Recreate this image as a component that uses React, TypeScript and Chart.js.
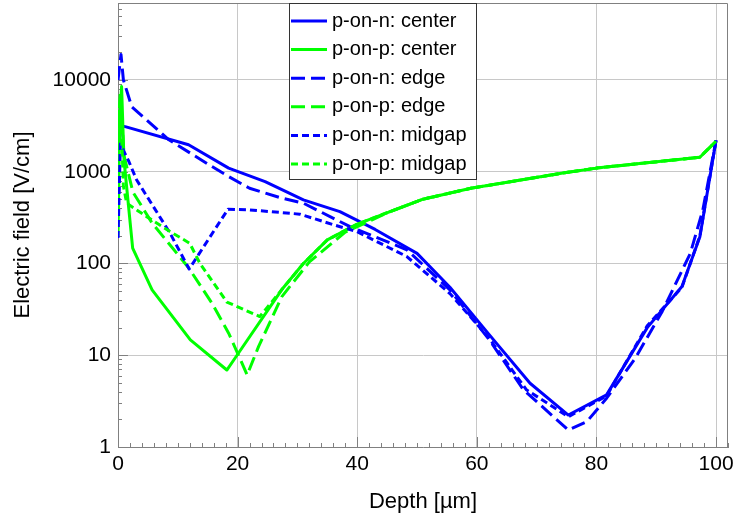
import React, { useEffect, useRef } from 'react';
import { Chart, registerables } from 'chart.js';

Chart.register(...registerables);

const FONT = "'Liberation Sans', Arial, sans-serif";

// Axis ticks
const xTickValues = [0, 20, 40, 60, 80, 100];
const yTickValues = [1, 10, 100, 1000, 10000];

// p-on-n: center
const ponnCenterX = [0, 0.5, 1.2, 11.8, 18.5, 24.6, 31, 37.1, 43, 50, 55.5, 62, 68.9, 75.3, 81.7, 88.5, 94.3, 97.3, 100];
const ponnCenterY = [1500, 3150, 3100, 1965, 1094, 780, 494, 368, 235, 129, 55, 17, 4.95, 2.23, 3.7, 20, 56, 196, 2200];

// p-on-p: center
const ponpCenterX = [0, 0.3, 0.6, 1.0, 2.45, 5.7, 12.1, 18.2, 19.9, 27.4, 31, 35, 40, 45.5, 51, 59, 74.4, 80, 97.3, 100];
const ponpCenterY = [200, 4000, 8500, 1350, 147, 51.5, 14.7, 6.9, 10, 52, 100, 181, 269, 368, 502, 660, 967, 1095, 1440, 2150];

// p-on-n: edge
const ponnEdgeX = [0, 0.5, 0.9, 2.3, 8.5, 15.7, 18.5, 22, 27.4, 31, 38.8, 48.3, 55.5, 62, 67.8, 75.3, 78.4, 81.7, 86.5, 91, 95.7, 97.8, 100];
const ponnEdgeY = [10000, 19000, 10000, 5100, 2230, 1140, 887, 660, 515, 454, 252, 141, 51.5, 15, 4.2, 1.53, 1.89, 3.4, 9.3, 30, 129, 385, 2200];

// p-on-p: edge
const ponpEdgeX = [0, 0.4, 1.0, 2.5, 5.7, 11.8, 15.7, 18.5, 21.6, 23.5, 27.4, 32, 38, 45.5, 51, 59, 74.4, 80, 97.3, 100];
const ponpEdgeY = [3000, 7500, 1500, 600, 276, 90, 37, 17.4, 6.1, 12.4, 43.6, 104, 220, 368, 502, 660, 967, 1095, 1440, 2150];

// p-on-n: midgap
const ponnMidX = [0, 0.4, 1.8, 3.1, 8.7, 11.9, 18.4, 22, 30.4, 36, 39.9, 48.3, 55.5, 62, 68.3, 75.3, 81.7, 88.5, 94.3, 97.3, 100];
const ponnMidY = [190, 2000, 1300, 817, 214, 87, 391, 384, 345, 265, 223, 119, 47, 15.5, 4.2, 2.14, 3.6, 21, 55, 200, 2200];

// p-on-p: midgap
const ponpMidX = [0, 0.4, 0.9, 1.45, 4.8, 8.7, 12, 13.7, 18.2, 23.7, 27.4, 31, 35, 40, 45.5, 51, 59, 74.4, 80, 97.3, 100];
const ponpMidY = [3000, 6000, 700, 454, 324, 223, 166, 100, 38, 26.4, 52, 100, 181, 269, 368, 502, 660, 967, 1095, 1440, 2150];

const seriesLabels = ['p-on-n: center', 'p-on-p: center', 'p-on-n: edge', 'p-on-p: edge', 'p-on-n: midgap', 'p-on-p: midgap'];

const BLUE = '#0000ff';
const GREEN = '#00ff00';
const DASH = [14, 6];
const DOT = [7, 4];

function pts(xs: number[], ys: number[]) {
  return xs.map((x, i) => ({ x, y: ys[i] }));
}

export default function App() {
  const ref = useRef<HTMLCanvasElement>(null);

  useEffect(() => {
    const canvas = ref.current;
    if (!canvas) return;

    const raw = [
      { data: pts(ponnCenterX, ponnCenterY), color: BLUE, dash: [] as number[] },
      { data: pts(ponpCenterX, ponpCenterY), color: GREEN, dash: [] as number[] },
      { data: pts(ponnEdgeX, ponnEdgeY), color: BLUE, dash: DASH },
      { data: pts(ponpEdgeX, ponpEdgeY), color: GREEN, dash: DASH },
      { data: pts(ponnMidX, ponnMidY), color: BLUE, dash: DOT },
      { data: pts(ponpMidX, ponpMidY), color: GREEN, dash: DOT },
    ];
    const datasets = raw.map((r, i) => ({
      label: seriesLabels[i],
      data: r.data,
      borderColor: r.color,
      backgroundColor: r.color,
      borderDash: r.dash,
      borderWidth: 3,
      borderJoinStyle: 'round',
      pointRadius: 0,
      tension: 0,
      fill: false,
      order: 6 - i,
    }));

    const framePlugin = {
      id: 'frameTicks',
      beforeDatasetsDraw(chart: any) {
        const { ctx, chartArea: a, scales } = chart;
        const x = scales.x;
        const y = scales.y;
        ctx.save();
        ctx.strokeStyle = '#808080';
        ctx.lineWidth = 1;
        ctx.setLineDash([]);
        ctx.beginPath();
        ctx.moveTo(a.left, a.top + 0.5);
        ctx.lineTo(a.right - 0.5, a.top + 0.5);
        ctx.lineTo(a.right - 0.5, a.bottom);
        ctx.stroke();
        ctx.beginPath();
        for (let d = 1; d <= 100000; d *= 10) {
          for (let m = 1; m <= 9; m++) {
            const v = d * m;
            if (v < y.min || v > y.max) continue;
            const py = Math.round(y.getPixelForValue(v)) + 0.5;
            const len = m === 1 ? 10 : 4;
            ctx.moveTo(a.left, py);
            ctx.lineTo(a.left + len, py);
          }
        }
        for (let v = 0; v <= x.max; v += 2) {
          const px = Math.round(x.getPixelForValue(v)) + 0.5;
          const len = v % 20 === 0 ? 10 : 4;
          ctx.moveTo(px, a.bottom);
          ctx.lineTo(px, a.bottom - len);
        }
        ctx.stroke();
        ctx.restore();
      },
    };

    const legendPlugin = {
      id: 'boxLegend',
      afterDraw(chart: any) {
        const { ctx } = chart;
        const left = 289;
        const top = 3;
        const w = 187;
        const rowH = 28.6;
        const h = 176;
        ctx.save();
        ctx.fillStyle = '#ffffff';
        ctx.fillRect(left, top, w, h);
        ctx.strokeStyle = '#333333';
        ctx.lineWidth = 1;
        ctx.setLineDash([]);
        ctx.strokeRect(left + 0.5, top + 0.5, w, h);
        chart.data.datasets.forEach((ds: any, i: number) => {
          const cy = top + 18 + i * rowH;
          ctx.strokeStyle = ds.borderColor;
          ctx.lineWidth = 3;
          ctx.setLineDash(ds.borderDash || []);
          ctx.beginPath();
          ctx.moveTo(291, cy);
          ctx.lineTo(327, cy);
          ctx.stroke();
          ctx.setLineDash([]);
          ctx.fillStyle = '#000000';
          ctx.font = `20px ${FONT}`;
          ctx.textBaseline = 'middle';
          ctx.textAlign = 'left';
          ctx.fillText(ds.label, 332, cy);
        });
        ctx.restore();
      },
    };

    const chart = new Chart(canvas, {
      type: 'line',
      data: { datasets: datasets as any },
      options: {
        animation: false,
        responsive: false,
        devicePixelRatio: 1,
        layout: { padding: { top: 3, right: 7, left: 0, bottom: 0 } },
        plugins: {
          legend: { display: false },
          tooltip: { enabled: false },
        },
        scales: {
          x: {
            type: 'linear',
            min: 0,
            max: 102,
            afterBuildTicks: (s: any) => {
              s.ticks = xTickValues.map((v) => ({ value: v }));
            },
            afterFit: (s: any) => {
              s.height = 76;
              s.paddingLeft = 0;
              s.paddingRight = 0;
            },
            grid: { color: '#c8c8c8', lineWidth: 1, drawTicks: false },
            border: { color: '#808080', width: 1 },
            ticks: {
              padding: 5,
              color: '#000',
              autoSkip: false,
              maxRotation: 0,
              font: { family: FONT, size: 21 },
              callback: (v: any) => String(v),
            },
            title: {
              display: true,
              text: 'Depth [µm]',
              color: '#000',
              font: { family: FONT, size: 22 },
              padding: { top: 0, bottom: 8 },
            },
          },
          y: {
            type: 'logarithmic',
            min: 1,
            max: 69000,
            afterBuildTicks: (s: any) => {
              s.ticks = yTickValues.map((v) => ({ value: v, major: true }));
            },
            afterFit: (s: any) => {
              s.width = 118;
              s.paddingTop = 0;
              s.paddingBottom = 0;
            },
            grid: { color: '#c8c8c8', lineWidth: 1, drawTicks: false },
            border: { color: '#808080', width: 1 },
            ticks: {
              padding: 7,
              color: '#000',
              autoSkip: false,
              font: { family: FONT, size: 21 },
              callback: (v: any) => String(v),
            },
            title: {
              display: true,
              text: 'Electric field [V/cm]',
              color: '#000',
              font: { family: FONT, size: 22 },
              padding: { top: 10, bottom: 0 },
            },
          },
        },
      },
      plugins: [framePlugin, legendPlugin],
    } as any);

    return () => chart.destroy();
  }, []);

  return (
    <div style={{ position: 'absolute', left: 0, top: 0, width: 735, height: 523, background: '#fff' }}>
      <canvas ref={ref} width={735} height={523} style={{ display: 'block', width: 735, height: 523 }} />
    </div>
  );
}
